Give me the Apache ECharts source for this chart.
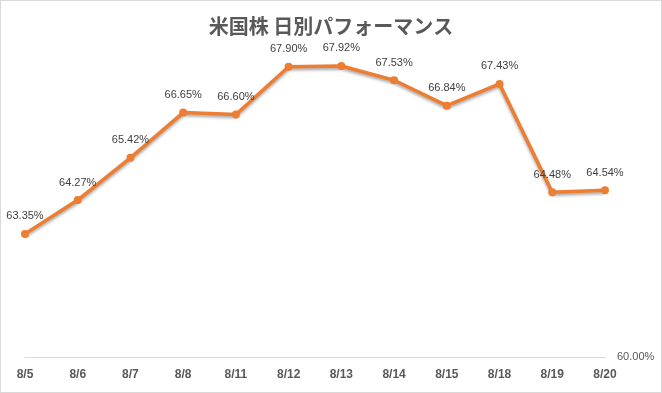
<!DOCTYPE html>
<html><head><meta charset="utf-8">
<script src="https://cdn.jsdelivr.net/npm/echarts@6/dist/echarts.min.js"></script>
<style>html,body{margin:0;padding:0;background:#fff}#c{width:662px;height:393px;box-sizing:border-box;border:1px solid #d9d9d9}</style>
</head><body><div id="c"></div>
<script>
const categories = ['8/5','8/6','8/7','8/8','8/11','8/12','8/13','8/14','8/15','8/18','8/19','8/20'];
const values = [63.35, 64.27, 65.42, 66.65, 66.60, 67.90, 67.92, 67.53, 66.84, 67.43, 64.48, 64.54];
const yMin = 60, yMax = 68;
const chart = echarts.init(document.getElementById('c'));
chart.setOption({
  animation: false,
  title: { text: '米国株 日別パフォーマンス', left: 'center', top: 10,
    textStyle: { fontFamily: 'Noto Sans CJK JP', fontSize: 20, fontWeight: 'bold', color: '#595959' } },
  grid: { left: 24, right: 56, top: 62, bottom: 35 },
  xAxis: { type: 'category', data: categories, boundaryGap: false,
    axisLine: { lineStyle: { color: '#d9d9d9' } }, axisTick: { show: false },
    axisLabel: { color: '#595959', fontWeight: 'bold', fontSize: 12, margin: 12, fontFamily: 'Liberation Sans' } },
  yAxis: { type: 'value', position: 'right', min: yMin, max: yMax, interval: 1,
    splitLine: { show: false }, axisLine: { show: false }, axisTick: { show: false },
    axisLabel: { color: '#595959', fontSize: 11, margin: 12, fontFamily: 'Liberation Sans',
      formatter: v => v === yMin ? v.toFixed(2) + '%' : '' } },
  series: [{ type: 'line', data: values, symbol: 'circle', symbolSize: 8,
    lineStyle: { color: '#ED7D31', width: 3.5, shadowColor: 'rgba(0,0,0,0.35)', shadowBlur: 3, shadowOffsetY: 2 },
    itemStyle: { color: '#ED7D31' },
    label: { show: true, position: 'top', distance: 8, color: '#404040', fontSize: 11, fontFamily: 'Liberation Sans',
      formatter: p => p.value.toFixed(2) + '%' } }]
});
</script></body></html>
